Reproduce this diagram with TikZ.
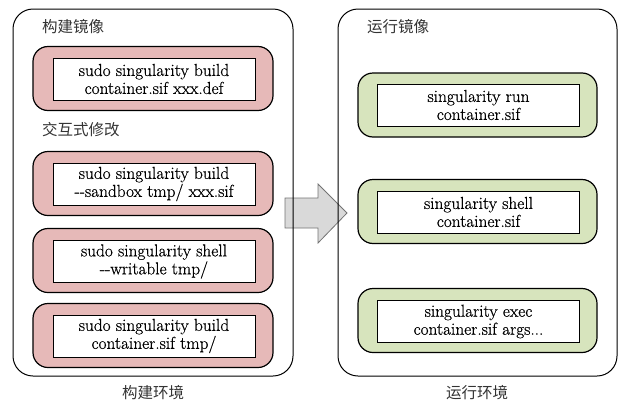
\documentclass[tikz,border=0pt]{standalone}
\usepackage{fontspec}
\newfontfamily\cmdfont{Latin Modern Roman}[FakeBold=0.6]
\newfontfamily\cjk{Noto Sans CJK SC}
\usepackage{xcolor}
\usepackage{tikz}
\usetikzlibrary{positioning,calc}
\definecolor{pillred}{HTML}{E6B9B8}
\definecolor{pillgreen}{HTML}{D7E4BD}
\definecolor{arrowgray}{HTML}{D9D9D9}

\tikzset{
    envbox/.style={draw, line width=1pt, rounded corners=20pt, minimum width=280pt, minimum height=367pt},
    redpill/.style={draw, line width=1.2pt, fill=pillred, rounded corners=15pt, minimum width=240pt, minimum height=64pt},
    greenpill/.style={draw, line width=1.2pt, fill=pillgreen, rounded corners=15pt, minimum width=239pt, minimum height=64pt},
    cmdbox/.style={draw, line width=0.9pt, fill=white, minimum width=202pt, minimum height=42pt, inner sep=0pt,
        align=center, font=\cmdfont\fontsize{17.3}{18}\selectfont},
    cjklabel/.style={font=\cjk\fontsize{15.5}{17}\selectfont, text=black!80, inner sep=0pt}
}

\begin{document}
\begin{tikzpicture}[x=1pt, y=-1pt]
    \useasboundingbox (0,0) rectangle (624,402);

    % Block arrow between the two environments
    \fill[arrowgray, draw=black!55, line width=0.8pt]
        (285,198) -- (318,198) -- (318,184) -- (347,213) -- (318,243) -- (318,228) -- (285,228) -- cycle;

    % Build environment
    \node[envbox] (build) at (153,192.5) {};
    \node[cjklabel, anchor=west] (buildimg) at (42,27) {构建镜像};
    \node[cjklabel, anchor=west] (interact) at (42,130) {交互式修改};
    \node[cjklabel] (buildenv) at (153,393) {构建环境};

    \node[redpill] (bp1) at (153,78.5) {};
    \node[cmdbox] (bc1) at (154,79) {sudo singularity build\\container.sif xxx.def};
    \node[redpill] (bp2) at (153,183.5) {};
    \node[cmdbox] (bc2) at (154,184) {sudo singularity build\\{-}{-}sandbox tmp/ xxx.sif};
    \node[redpill] (bp3) at (153,260.5) {};
    \node[cmdbox] (bc3) at (154,261.5) {sudo singularity shell\\{-}{-}writable tmp/};
    \node[redpill] (bp4) at (153,335.5) {};
    \node[cmdbox] (bc4) at (154,336) {sudo singularity build\\container.sif tmp/};

    % Run environment
    \node[envbox, minimum width=279pt] (run) at (477.5,192.5) {};
    \node[cjklabel, anchor=west] (runimg) at (367,27) {运行镜像};
    \node[cjklabel] (runenv) at (477,393) {运行环境};

    \node[greenpill] (rp1) at (477.5,105) {};
    \node[cmdbox] (rc1) at (478.5,105) {singularity run\\container.sif};
    \node[greenpill] (rp2) at (477.5,211.5) {};
    \node[cmdbox] (rc2) at (478.5,212) {singularity shell\\container.sif};
    \node[greenpill] (rp3) at (477.5,320.5) {};
    \node[cmdbox] (rc3) at (478.5,321.5) {singularity exec\\container.sif args...};
\end{tikzpicture}
\end{document}
